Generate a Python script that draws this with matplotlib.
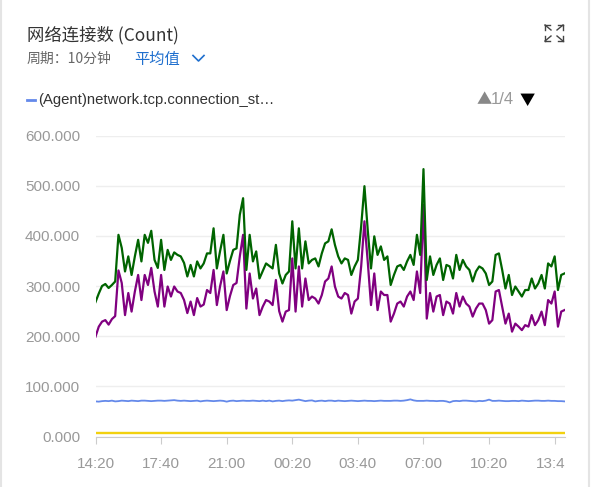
import numpy as np
import matplotlib
matplotlib.use("Agg")
from matplotlib import pyplot as plt
from matplotlib.lines import Line2D
from matplotlib.transforms import Bbox, TransformedBbox

W, H = 592, 487

# 10 minute samples starting at 14:20
green = [268, 285, 300, 304, 296, 302, 309, 402, 376, 329, 359, 322,
         359, 392, 349, 402, 386, 410, 352, 336, 392, 332, 372, 352,
         367, 362, 359, 346, 319, 342, 319, 349, 335, 345, 365, 365,
         415, 335, 370, 402, 325, 350, 372, 375, 442, 475, 332, 402,
         349, 369, 315, 330, 345, 340, 335, 382, 325, 305, 322, 329,
         429, 335, 415, 335, 389, 345, 352, 355, 339, 365, 385, 389,
         413, 382, 359, 345, 355, 352, 322, 339, 352, 419, 499, 412,
         335, 399, 362, 379, 352, 359, 302, 322, 339, 342, 332, 349,
         362, 342, 402, 362, 533, 312, 359, 322, 342, 355, 312, 342,
         339, 315, 362, 332, 352, 339, 332, 309, 329, 339, 335, 325,
         302, 309, 362, 365, 332, 295, 322, 282, 299, 289, 279, 292,
         292, 315, 295, 305, 322, 295, 345, 339, 359, 292, 322, 325]

purple = [199, 219, 229, 232, 223, 234, 240, 331, 306, 242, 286, 249,
          289, 322, 272, 322, 302, 336, 289, 259, 322, 259, 299, 279,
          299, 289, 286, 272, 246, 269, 242, 276, 259, 263, 292, 286,
          332, 262, 300, 329, 252, 280, 302, 306, 359, 402, 255, 325,
          275, 295, 242, 259, 272, 269, 262, 312, 250, 229, 249, 252,
          355, 249, 339, 259, 315, 272, 279, 275, 265, 282, 309, 315,
          339, 299, 279, 275, 286, 282, 245, 269, 275, 339, 429, 349,
          262, 325, 252, 289, 282, 282, 229, 245, 265, 269, 259, 279,
          289, 272, 329, 286, 462, 235, 286, 249, 279, 282, 242, 269,
          265, 245, 286, 259, 279, 265, 259, 239, 255, 265, 265, 252,
          225, 232, 289, 292, 259, 225, 245, 209, 225, 219, 212, 222,
          219, 242, 222, 232, 249, 222, 272, 265, 289, 219, 249, 252]

blue = [70.0, 69.5, 70.5, 71.0, 70.5, 71.5, 70.0, 70.5, 71.5, 71.0, 70.5, 71.5,
        71.0, 70.5, 71.5, 71.5, 71.0, 70.5, 71.0, 71.5, 71.5, 71.0, 71.5, 72.0,
        72.5, 71.5, 71.0, 71.5, 71.0, 70.5, 71.0, 71.5, 70.0, 71.0, 71.5, 71.0,
        70.5, 71.0, 71.5, 71.0, 69.5, 71.0, 71.5, 70.5, 71.0, 71.5, 71.0, 71.0,
        71.5, 71.0, 70.5, 71.5, 70.5, 71.5, 70.0, 71.0, 71.5, 70.5, 71.5, 72.0,
        71.5, 72.5, 73.5, 72.0, 70.5, 71.5, 72.0, 70.0, 71.0, 71.5, 70.5, 71.5,
        71.5, 70.5, 71.5, 71.0, 70.5, 71.0, 71.5, 71.0, 70.5, 71.0, 71.5, 71.0,
        71.0, 70.5, 71.0, 71.5, 71.0, 71.0, 71.0, 71.5, 71.5, 71.0, 71.5, 72.5,
        74.0, 72.0, 71.0, 71.0, 71.0, 71.5, 71.0, 71.0, 70.5, 71.0, 71.0, 70.0,
        68.0, 70.5, 71.0, 70.5, 71.5, 71.5, 71.0, 70.5, 70.0, 71.0, 70.5, 71.5,
        73.5, 71.0, 71.0, 71.5, 71.0, 70.5, 70.5, 71.0, 71.0, 70.5, 71.5, 71.0,
        70.5, 71.0, 71.5, 71.5, 71.0, 71.0, 71.5, 71.0, 71.0, 70.5, 70.5, 70.0]

yellow = [7.5] * len(green)

tick_pos = [0, 20, 40, 60, 80, 100, 120, 140]
tick_labels = ["14:20", "17:40", "21:00", "00:20", "03:40", "07:00", "10:20", "13:40"]
y_ticks = [0, 100, 200, 300, 400, 500, 600]

cjk = ["Noto Sans CJK SC", "DejaVu Sans"]
latin = ["Liberation Sans", "DejaVu Sans"]

fig = plt.figure(figsize=(W / 100, H / 100), dpi=100)
fig.patch.set_facecolor("white")


def fx(px):
    return px / W


def fy(py):
    return 1 - py / H


ax = fig.add_axes([fx(95.5), fy(436.5), fx(565) - fx(95.5), fy(135.5) - fy(436.5)])
x = np.arange(len(green))

ax.plot(x, yellow, color="#f2d10f", lw=1.7, solid_capstyle="butt")
ax.plot(x, blue, color="#6489ea", lw=1.3)
ax.plot(x, purple, color="#800080", lw=1.6)
ax.plot(x, green, color="#006400", lw=1.6)

ax.set_xlim(0, len(green) - 1 + 0.15)
ax.set_ylim(0, 600)
ax.set_yticks(y_ticks)
ax.set_yticklabels(["%.3f" % v for v in y_ticks])
ax.set_xticks(tick_pos)
ax.set_xticklabels(tick_labels)
ax.grid(axis="y", color="#eeeeee", lw=1)
ax.set_axisbelow(True)
for s in ["top", "right", "left"]:
    ax.spines[s].set_visible(False)
ax.spines["bottom"].set_color("#cccccc")
ax.tick_params(axis="y", length=0, pad=11, labelsize=11, labelcolor="#999999")
ax.tick_params(axis="x", length=5, color="#cccccc", pad=10, labelsize=11, labelcolor="#999999")
for lab in ax.get_xticklabels() + ax.get_yticklabels():
    lab.set_family(latin)

# last x label is cut off at the right edge of the plot
clip = TransformedBbox(Bbox([[-0.5, -0.5], [1.0, 1.0]]), ax.transAxes)
for lab in ax.get_xticklabels():
    lab.set_clip_box(clip)
    lab.set_clip_on(True)

# header
fig.text(fx(27), fy(35), "网络连接数 (Count)", family=cjk, fontsize=12.5, color="#333333", va="center")
fig.text(fx(27), fy(59), "周期：10分钟", family=cjk, fontsize=10, color="#666666", va="center")
fig.text(fx(134), fy(59), "平均值", family=cjk, fontsize=11, color="#1f6fce", va="center")
fig.add_artist(Line2D([fx(193), fx(198.5), fx(204)], [fy(55.5), fy(61), fy(55.5)],
                      color="#1f6fce", lw=1.2))

# legend row
fig.add_artist(Line2D([fx(27), fx(35)], [fy(100), fy(100)], color="#6489ea", lw=2))
fig.text(fx(38), fy(100), "(Agent)network.tcp.connection_st…", family=latin, fontsize=10.7,
         color="#333333", va="center")
fig.text(fx(477), fy(100), "▲", family=cjk, fontsize=11, color="#888888", va="center")
fig.text(fx(491), fy(100), "1/4", family=latin, fontsize=12, color="#999999", va="center")
fig.text(fx(520), fy(100), "▼", family=cjk, fontsize=11, color="#000000", va="center")

# expand icon
cx, cy = 554, 33
for dx, dy in [(-1, -1), (1, -1), (-1, 1), (1, 1)]:
    x0, y0 = cx + dx * 3, cy + dy * 3
    x1, y1 = cx + dx * 9, cy + dy * 8
    fig.add_artist(Line2D([fx(x0), fx(x1)], [fy(y0), fy(y1)], color="#444444", lw=1.0))
    fig.add_artist(Line2D([fx(x1), fx(x1 - dx * 5)], [fy(y1), fy(y1)], color="#444444", lw=1.0))
    fig.add_artist(Line2D([fx(x1), fx(x1)], [fy(y1), fy(y1 - dy * 5)], color="#444444", lw=1.0))

# card borders
fig.add_artist(Line2D([fx(1), fx(1)], [0, 1], color="#e4e4e4", lw=1.5))
fig.add_artist(Line2D([fx(589), fx(589)], [0, 1], color="#e4e4e4", lw=1.5))

fig.savefig("out.png", dpi=100, facecolor="white")
